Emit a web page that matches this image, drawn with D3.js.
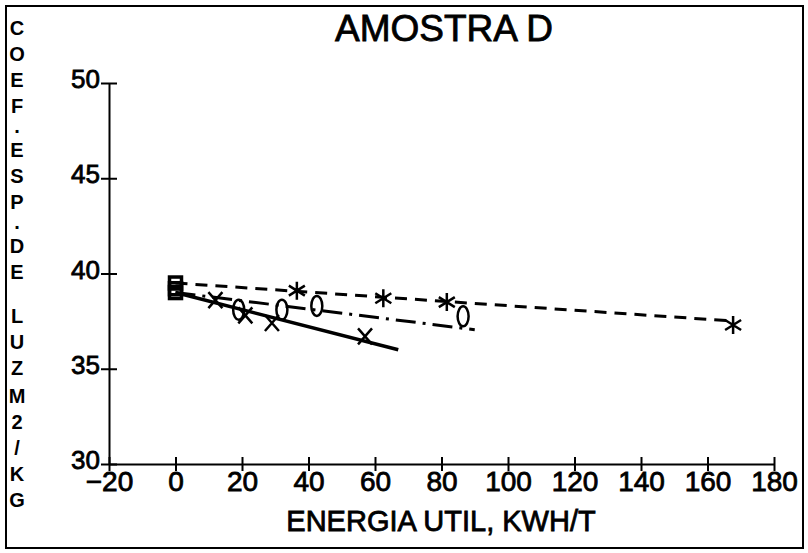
<!DOCTYPE html>
<html>
<head>
<meta charset="utf-8">
<script src="https://cdn.jsdelivr.net/npm/d3@7"></script>
<style>
  body { margin: 0; background: #fff; }
  svg text { font-family: "Liberation Sans", Arial, sans-serif; fill: #000; }
</style>
</head>
<body>
<div id="chart"></div>
<script>
// values
const xTicks = [-20, 0, 20, 40, 60, 80, 100, 120, 140, 160, 180];
const yTicks = [30, 35, 40, 45, 50];

const energyX = [0, 12, 21, 29, 57];
const coefX = [39.2, 38.6, 37.8, 37.4, 36.7];
const energyO = [0, 19, 32, 42.5, 86.5];
const coefO = [39.0, 38.1, 38.1, 38.3, 37.75];
const energyStar = [0, 36.5, 62.5, 81.6, 167.7];
const coefStar = [39.5, 39.1, 38.7, 38.5, 37.3];

// fitted lines (start / end)
const fitXe = [0, 67], fitXc = [39.0, 36.0];
const fitOe = [0, 90], fitOc = [39.0, 37.05];
const fitSe = [0, 168], fitSc = [39.5, 37.5];

const yTitle = ['C','O','E','F','.','E','S','P','.','D','E','L','U','Z','M','2','/','K','G'];

const width = 808, height = 553;

const svg = d3.select('#chart').append('svg')
  .attr('width', width)
  .attr('height', height);

// frame
svg.append('rect')
  .attr('x', 6).attr('y', 6)
  .attr('width', 797).attr('height', 542)
  .attr('fill', 'none').attr('stroke', '#000').attr('stroke-width', 2);

const x = d3.scaleLinear().domain([-20, 180]).range([109, 774]);
const y = d3.scaleLinear().domain([30, 50]).range([464, 83]);

// axes, ticks crossing the line
const xAxis = svg.append('g')
  .attr('transform', `translate(0,${y(30)})`)
  .call(d3.axisBottom(x).tickValues(xTicks).tickSize(0).tickFormat(d => d < 0 ? '\u2212' + (-d) : d));
xAxis.select('.domain').attr('stroke', '#000').attr('stroke-width', 2);
xAxis.selectAll('.tick line').attr('y1', -7).attr('y2', 7).attr('stroke-width', 2);
xAxis.selectAll('.tick text')
  .attr('y', 27).attr('dy', 0)
  .attr('font-size', 28).attr('stroke', '#000').attr('stroke-width', 0.8);

const yAxis = svg.append('g')
  .attr('transform', `translate(${x(-20)},0)`)
  .call(d3.axisLeft(y).tickValues(yTicks).tickSize(0));
yAxis.select('.domain').attr('stroke', '#000').attr('stroke-width', 2);
yAxis.selectAll('.tick line').attr('x1', -8).attr('x2', 8).attr('stroke-width', 2);
yAxis.selectAll('.tick text')
  .attr('x', -9).attr('dy', '0.18em')
  .attr('font-size', 26).attr('stroke', '#000').attr('stroke-width', 0.8);
svg.selectAll('.tick text').attr('font-family', '"Liberation Sans", Arial, sans-serif');

// titles
svg.append('text')
  .attr('x', 444).attr('y', 41)
  .attr('text-anchor', 'middle')
  .attr('font-size', 37).attr('stroke', '#000').attr('stroke-width', 0.8)
  .text('AMOSTRA D');

svg.append('text')
  .attr('x', 441).attr('y', 531)
  .attr('text-anchor', 'middle')
  .attr('font-size', 29).attr('stroke', '#000').attr('stroke-width', 0.8)
  .text('ENERGIA UTIL, KWH/T');

// stacked y title
const yPos = [28, 54, 80, 106, 126, 150, 176, 202, 222, 246, 272, 316, 342, 368, 396, 422, 448, 474, 500];
svg.append('g').selectAll('text')
  .data(yTitle)
  .join('text')
    .attr('x', 17)
    .attr('y', (d, i) => yPos[i])
    .attr('dy', '0.36em')
    .attr('text-anchor', 'middle')
    .attr('font-size', 20)
    .attr('font-weight', 'bold')
    .text(d => d);

// fitted lines
const line = d3.line().x(d => x(d[0])).y(d => y(d[1]));
function fit(es, cs) { return es.map((e, i) => [e, cs[i]]); }

svg.append('path').datum(fit(fitXe, fitXc))
  .attr('d', line).attr('fill', 'none').attr('stroke', '#000').attr('stroke-width', 3.5);
svg.append('path').datum(fit(fitOe, fitOc))
  .attr('d', line).attr('fill', 'none').attr('stroke', '#000').attr('stroke-width', 3)
  .attr('stroke-dasharray', '20 7 3 7');
svg.append('path').datum(fit(fitSe, fitSc))
  .attr('d', line).attr('fill', 'none').attr('stroke', '#000').attr('stroke-width', 3)
  .attr('stroke-dasharray', '12 8');

// markers; first point of each run drawn as square
function firstSquare(es, cs) {
  svg.append('rect')
    .attr('x', x(es[0]) - 6).attr('y', y(cs[0]) - 6)
    .attr('width', 12).attr('height', 12)
    .attr('fill', 'none').attr('stroke', '#000').attr('stroke-width', 3.5);
}
firstSquare(energyX, coefX);
firstSquare(energyO, coefO);
firstSquare(energyStar, coefStar);

const gX = svg.append('g').attr('stroke', '#000').attr('stroke-width', 2.5);
gX.selectAll('path')
  .data(fit(energyX, coefX).slice(1))
  .join('path')
  .attr('d', d => {
    const cx = x(d[0]), cy = y(d[1]);
    return `M${cx - 7},${cy - 8}L${cx + 7},${cy + 8}M${cx + 7},${cy - 8}L${cx - 7},${cy + 8}`;
  });

svg.append('g').selectAll('ellipse')
  .data(fit(energyO, coefO).slice(1))
  .join('ellipse')
  .attr('cx', d => x(d[0])).attr('cy', d => y(d[1]))
  .attr('rx', 5.5).attr('ry', 10)
  .attr('fill', 'none').attr('stroke', '#000').attr('stroke-width', 2.5);

const gS = svg.append('g').attr('stroke', '#000').attr('stroke-width', 2.5);
gS.selectAll('path')
  .data(fit(energyStar, coefStar).slice(1))
  .join('path')
  .attr('d', d => {
    const cx = x(d[0]), cy = y(d[1]);
    return `M${cx},${cy - 9}L${cx},${cy + 9}` +
      `M${cx - 8},${cy - 5}L${cx + 8},${cy + 5}` +
      `M${cx + 8},${cy - 5}L${cx - 8},${cy + 5}`;
  });
</script>
</body>
</html>
